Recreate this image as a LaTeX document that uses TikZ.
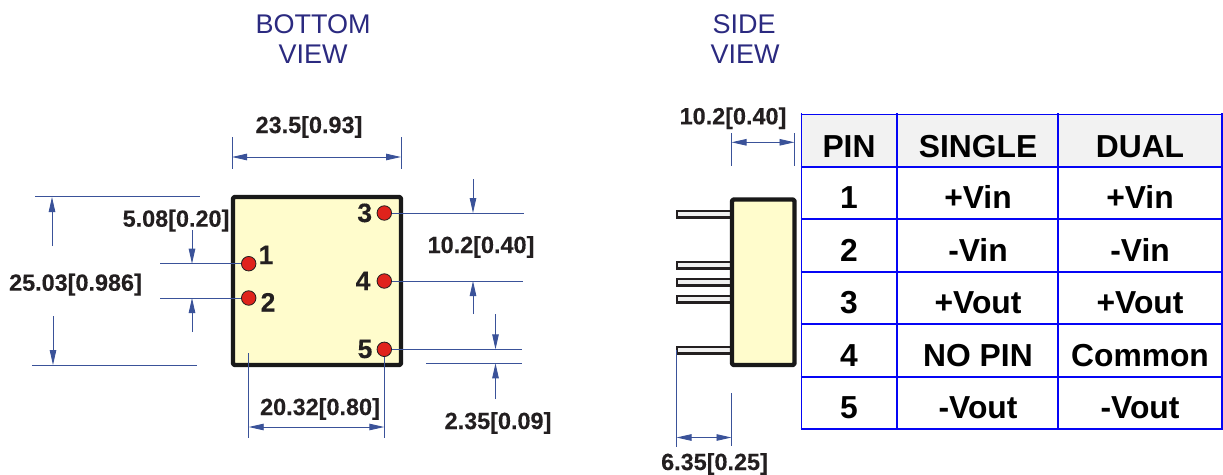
\documentclass[tikz,border=0pt]{standalone}
\usepackage{fontspec}
\setmainfont{Liberation Sans}
\newfontfamily\heavyfont[FakeBold=0.25]{Liberation Sans Bold}
\usetikzlibrary{arrows.meta}
\definecolor{dimblue}{HTML}{3A5299}
\definecolor{ink}{HTML}{231F20}
\definecolor{titleblue}{HTML}{2B2A80}
\definecolor{bodyfill}{HTML}{FFFCCC}
\definecolor{pinred}{HTML}{E0231C}
\definecolor{gridblue}{HTML}{0505F5}
\tikzset{
  dimline/.style={draw=dimblue,line width=0.9pt},
  dimarrow/.style={draw=dimblue,line width=0.9pt,-{Stealth[length=15pt,width=6.5pt,inset=0pt,color=dimblue]}},
  dimtext/.style={anchor=base,inner sep=0pt,text=ink,font=\fontsize{23.4}{24}\heavyfont},
  pinnum/.style={anchor=base,inner sep=0pt,text=ink,font=\fontsize{26.5}{27}\heavyfont},
  viewtitle/.style={anchor=base,inner sep=0pt,text=titleblue,font=\fontsize{27}{28}\selectfont},
  cell/.style={anchor=base,inner sep=0pt,text=black,font=\fontsize{31.8}{32}\selectfont\bfseries},
  body/.style={draw=black!90,line width=4.4pt,fill=bodyfill,rounded corners=1.5pt,line join=round},
  pinhole/.style={circle,draw=ink,line width=0.8pt,fill=pinred,minimum size=14.5pt,inner sep=0pt},
  lead/.style={draw=ink,line width=2.6pt,fill=gray!12},
  grid/.style={draw=gridblue,line width=1.7pt},
}
\begin{document}
\begin{tikzpicture}[x=1pt,y=-1pt]
\useasboundingbox (0,0) rectangle (1223,474);
% titles
\node[viewtitle] (t1) at (313,33) {BOTTOM};
\node[viewtitle] (t2) at (313,63) {VIEW};
\node[viewtitle] (t3) at (744,33) {SIDE};
\node[viewtitle] (t4) at (745,63) {VIEW};
% bottom view body
\draw[body] (233,197) rectangle (401,365);
% pin positions
\coordinate (c1) at (248.7,263.7);
\coordinate (c2) at (248.7,298);
\coordinate (c3) at (384.3,213);
\coordinate (c4) at (384.3,281);
\coordinate (c5) at (384.3,349.3);
% extension lines
\draw[dimline] (232,137) -- (232,169);
\draw[dimline] (401,137) -- (401,169);
\draw[dimline] (35,196.5) -- (200,196.5);
\draw[dimline] (32,365.3) -- (197,365.3);
\draw[dimline] (160,263.7) -- (c1);
\draw[dimline] (160,298) -- (c2);
\draw[dimline] (248.7,353) -- (248.7,438);
\draw[dimline] (c5) -- (384.3,438);
\draw[dimline] (c3) -- (524,213);
\draw[dimline] (c4) -- (523,281);
\draw[dimline] (c5) -- (522,349.3);
\draw[dimline] (426,363.3) -- (522,363.3);
% pins
\node[pinhole] (p1) at (c1) {};
\node[pinhole] (p2) at (c2) {};
\node[pinhole] (p3) at (c3) {};
\node[pinhole] (p4) at (c4) {};
\node[pinhole] (p5) at (c5) {};
\node[pinnum] (n1) at (266,264) {1};
\node[pinnum] (n2) at (268,311.5) {2};
\node[pinnum] (n3) at (364.7,222) {3};
\node[pinnum] (n4) at (363,290) {4};
\node[pinnum] (n5) at (365,358) {5};
% dimension arrows
\draw[dimarrow] (309,157) -- (232,157);
\draw[dimarrow] (309,157) -- (401,157);
\draw[dimarrow] (52,246) -- (52,197);
\draw[dimarrow] (53,316) -- (53,365);
\draw[dimarrow] (192,230) -- (192,263.7);
\draw[dimarrow] (192,332) -- (192,298);
\draw[dimarrow] (316,427) -- (248.7,427);
\draw[dimarrow] (316,427) -- (384.3,427);
\draw[dimarrow] (473,179) -- (473,213);
\draw[dimarrow] (473,314) -- (473,281);
\draw[dimarrow] (495.5,314) -- (495.5,349.3);
\draw[dimarrow] (495.5,399) -- (495.5,363.3);
% dimension texts
\node[dimtext] (d1) at (309,133) {23.5[0.93]};
\node[dimtext] (d2) at (75.5,290.7) {25.03[0.986]};
\node[dimtext] (d3) at (176,226.7) {5.08[0.20]};
\node[dimtext] (d4) at (481,253) {10.2[0.40]};
\node[dimtext] (d5) at (498,429) {2.35[0.09]};
\node[dimtext] (d6) at (320,415) {20.32[0.80]};
\node[dimtext] (d7) at (733,124.3) {10.2[0.40]};
\node[dimtext] (d8) at (714.5,470) {6.35[0.25]};
% side view leads
\foreach \y in {214.3,265.3,282.3,299.3,350.3} {
  \draw[lead] (731,\y-3.2) -- (676.8,\y-3.2) -- (676.8,\y+3.2) -- (731,\y+3.2);
}
\draw[body] (732,199.5) rectangle (794.5,365);
% side view dimensions
\draw[dimline] (731.5,133) -- (731.5,166);
\draw[dimline] (794.5,133) -- (794.5,166);
\draw[dimarrow] (763,142.3) -- (731.5,142.3);
\draw[dimarrow] (763,142.3) -- (794.5,142.3);
\draw[dimline] (676.5,350) -- (676.5,447);
\draw[dimline] (731.5,393) -- (731.5,446);
\draw[dimarrow] (704,437.5) -- (676.5,437.5);
\draw[dimarrow] (704,437.5) -- (731.5,437.5);
% table
\fill[gray!10] (801.5,114.5) rectangle (1222,167);
\draw[grid] (801.5,113) -- (801.5,428.7);
\draw[grid] (897,113) -- (897,428.7);
\draw[grid] (1058,113) -- (1058,428.7);
\draw[grid] (1222,113) -- (1222,428.7);
\foreach \y in {114.5,167,219,271.7,324,376.7,428.7} {
  \draw[grid] (800.6,\y) -- (1222.8,\y);
}
\node[cell] (h1) at (849,157) {PIN};
\node[cell] (h2) at (978,157) {SINGLE};
\node[cell] (h3) at (1140,157) {DUAL};
\node[cell] (r1a) at (849,208.5) {1};
\node[cell] (r1b) at (978,208.5) {+Vin};
\node[cell] (r1c) at (1140,208.5) {+Vin};
\node[cell] (r2a) at (849,261) {2};
\node[cell] (r2b) at (978,261) {-Vin};
\node[cell] (r2c) at (1140,261) {-Vin};
\node[cell] (r3a) at (849,313.5) {3};
\node[cell] (r3b) at (978,313.5) {+Vout};
\node[cell] (r3c) at (1140,313.5) {+Vout};
\node[cell] (r4a) at (849,366) {4};
\node[cell] (r4b) at (978,366) {NO PIN};
\node[cell] (r4c) at (1140,366) {Common};
\node[cell] (r5a) at (849,418.5) {5};
\node[cell] (r5b) at (978,418.5) {-Vout};
\node[cell] (r5c) at (1140,418.5) {-Vout};
\end{tikzpicture}
\end{document}
